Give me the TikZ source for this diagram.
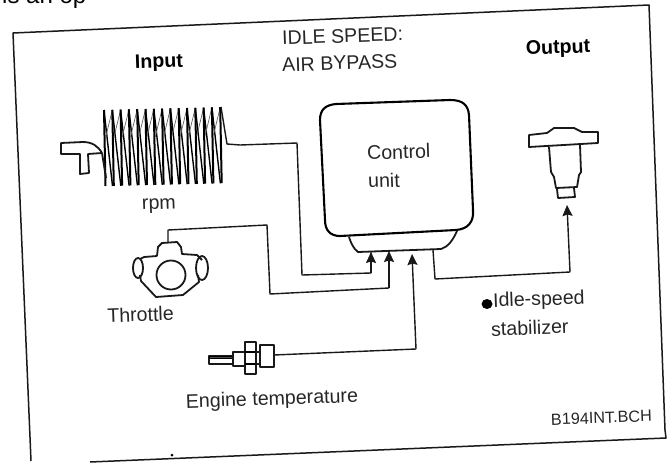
\documentclass[tikz,border=0pt]{standalone}
\usepackage{fontspec}
\setmainfont{Liberation Sans}
\usetikzlibrary{arrows.meta}
\tikzset{
  ink/.style={line width=1.8pt,line join=round,black!90},
  wire/.style={line width=1.4pt,line join=round,black!90},
  arrowwire/.style={wire,-{Stealth[length=11pt,width=10pt,inset=1.5pt]}},
  lbl/.style={inner sep=0pt,rotate=2,text=black!85,font=\fontsize{19.6}{23}\selectfont},
  boldlbl/.style={lbl,text=black,font=\fontsize{19.6}{23}\selectfont\bfseries},
  small/.style={lbl,font=\fontsize{16.2}{19}\selectfont},
}
\begin{document}
\begin{tikzpicture}[x=1pt,y=-1pt]
\useasboundingbox (0,0) rectangle (668,463);
\begin{scope}
\clip (0,0) rectangle (668,463);
\node[inner sep=0pt,anchor=base west,font=\fontsize{24}{28}\selectfont] (cut) at (2,3.5) {is an op};
\end{scope}
% frame
\draw[line width=1.5pt,line join=round,black!90] (31,461) -- (13,33) -- (649,5) -- (665,430) -- (666,438) -- (90,462);
% labels
\node[lbl,anchor=west] (t1) at (282,38) {IDLE SPEED:};
\node[lbl,anchor=west] (t2) at (282,65) {AIR BYPASS};
\node[boldlbl] (input) at (159,63) {Input};
\node[boldlbl] (output) at (558,49) {Output};
\node[lbl] (rpm) at (159,206) {rpm};
\node[lbl] (thr) at (140.5,314.5) {Throttle};
\node[lbl] (eng) at (272,400) {Engine temperature};
\node[lbl,anchor=west] (c1) at (367,153) {Control};
\node[lbl,anchor=west] (c2) at (368,181) {unit};
\node[lbl,anchor=west] (i1) at (493,302) {Idle-speed};
\node[lbl,anchor=west] (i2) at (491,329) {stabilizer};
\fill[black] (487,304) ellipse (5.5pt and 5pt);
\node[small,anchor=east] (code) at (652,416) {B194INT.BCH};
\fill (172,455) circle (1.5pt);
% control unit
\draw[line width=2.1pt,line join=round,black] (320,120) .. controls (320,109) and (326,105) .. (336,104)
  -- (450,100) .. controls (463,100) and (468,105) .. (469,115)
  -- (473,210) .. controls (474,222) and (468,229) .. (456,230)
  -- (340,236) .. controls (330,236) and (325,230) .. (325,220) -- cycle;
\draw[ink] (349,237) .. controls (351,243) and (353,248) .. (358,252) -- (441,249)
  .. controls (448,247) and (453,240) .. (457,231);
% ports
\coordinate (p1) at (371,252);
\coordinate (p2) at (389,251);
\coordinate (p3) at (412,254);
\coordinate (p4) at (433,250);
\coordinate (coilend) at (221,107);
\coordinate (thrtop) at (168,243);
\coordinate (tempend) at (274,355);
\coordinate (outtip) at (567,205);
% coil
\foreach \k in {0,...,14}{
  \pgfmathsetmacro{\tx}{104+8.3*\k}
  \pgfmathsetmacro{\ty}{110-0.2*\k}
  \pgfmathsetmacro{\bx}{105+8.3*\k}
  \pgfmathsetmacro{\by}{186-0.2*\k}
  \draw[line width=2pt,black] (\tx,\ty) -- (\bx+0.5,\by);
  \ifnum\k<14
    \draw[line width=1.4pt,black] (\tx,\ty) -- (\bx+7.5,\by);
    \draw[line width=0.7pt,black!60] (\bx+0.5,\by-48) -- (\tx+8.3,\ty);
  \fi
}
% T sensor
\draw[ink] (102,153) .. controls (98,146) and (92,142) .. (83,142) -- (61,143) -- (61,154) -- (80,154) -- (80,174) -- (89,173) -- (88,154) -- (102,153);
\draw[ink] (102,153) -- (106,178);
% throttle
\draw[ink] (157,256) -- (158,247) -- (162,243) -- (177,242) -- (181,247) -- (182,254) -- (197,255) -- (202,260)
  (198,275) -- (199,282) -- (183,295) -- (156,297) -- (141,281) -- (140,275)
  (140,259) -- (144,257) -- (157,256);
\draw[ink] (171,275) circle (14.5pt);
\draw[ink] (138,268) ellipse (5pt and 10pt);
\draw[ink] (202,268) ellipse (6pt and 12pt);
% output device
\draw[ink] (529,135) -- (547,133) -- (554,128) -- (574,128) -- (582,132) -- (598,132) -- (598,143) -- (529,147) -- cycle;
\draw[ink] (549,147) -- (551,172) -- (554,177) -- (556,188) -- (577,187) -- (579,175) -- (581,172) -- (580,145);
\draw[ink] (557,189) -- (558,198) -- (575,197) -- (574,188);
% temperature sensor
\draw[ink] (209,356) rectangle (233,364);
\draw[line width=1pt,fill=black!70] (209,356) rectangle (233,358);
\draw[ink] (233,352) rectangle (245,366);
\draw[ink] (245,342) rectangle (256,374);
\draw[line width=1.2pt] (245,352) -- (256,352) (245,364) -- (256,364);
\draw[ink] (256,352) rectangle (260,364);
\draw[ink] (260,345) rectangle (274,367);
% connectors
\draw[wire] (coilend) -- (227,144) -- (240,145) -- (297,143) -- (302,275) -- (371,273) -- (p1);
\draw[arrowwire] (371,273) -- (p1);
\draw[wire] (thrtop) -- (168,230) -- (267,225) -- (270,294) -- (389,288);
\draw[arrowwire] (389,288) -- (p2);
\draw[wire] (tempend) -- (416,349);
\draw[arrowwire] (416,349) -- (p3);
\draw[wire] (p4) -- (435,279) -- (570,272);
\draw[arrowwire] (570,272) -- (outtip);
\end{tikzpicture}
\end{document}
